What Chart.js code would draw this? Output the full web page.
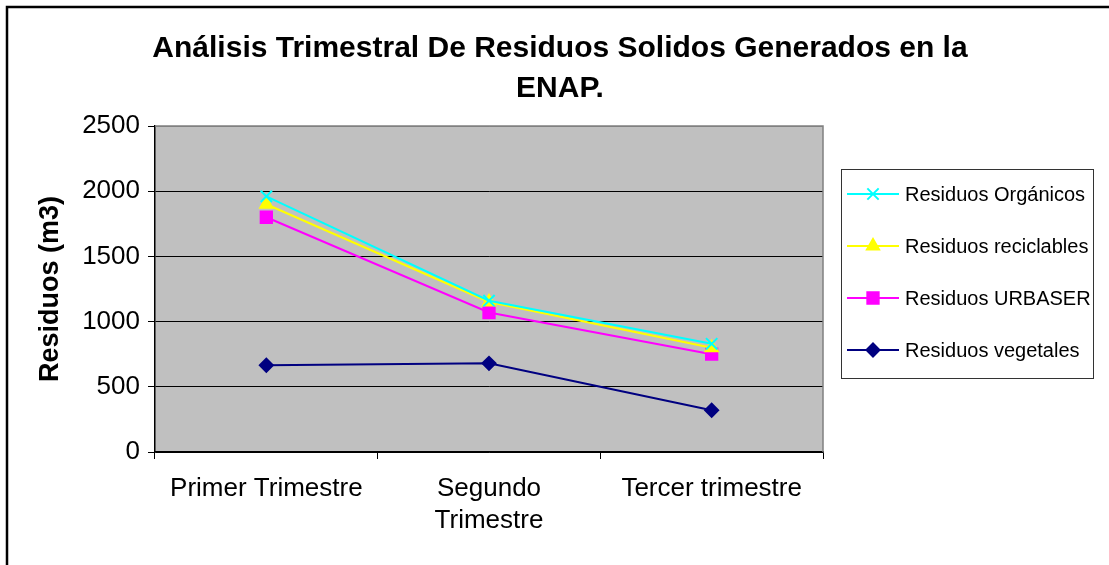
<!DOCTYPE html>
<html>
<head>
<meta charset="utf-8">
<script src="https://cdn.jsdelivr.net/npm/chart.js@4.4.1/dist/chart.umd.min.js"></script>
<style>
	html, body { margin: 0; padding: 0; background: #fff; }
	#wrap { width: 1109px; height: 565px; }
</style>
</head>
<body>
<div id="wrap"><canvas id="graph" width="1109" height="565"></canvas></div>
<script>
"use strict";

const categories = ["Primer Trimestre", ["Segundo", "Trimestre"], "Tercer trimestre"];
const organicos = [1960, 1160, 830];
const reciclables = [1900, 1150, 800];
const urbaser = [1800, 1070, 750];
const vegetales = [665, 680, 320];
const yTicks = [0, 500, 1000, 1500, 2000, 2500];

const titleLines = ["Análisis Trimestral De Residuos Solidos Generados en la", "ENAP."];
const FONT = '"Liberation Sans", Arial, sans-serif';

const series = [
	{ label: "Residuos Orgánicos", data: organicos, color: "#00ffff", style: "crossRot", radius: 8 },
	{ label: "Residuos reciclables", data: reciclables, color: "#ffff00", style: "triangle", radius: 7 },
	{ label: "Residuos URBASER", data: urbaser, color: "#ff00ff", style: "rect", radius: 8 },
	{ label: "Residuos vegetales", data: vegetales, color: "#000080", style: "rectRot", radius: 6.5 },
];

// fallback in case helpers are not exposed by the bundle
function marker(ctx, style, r, x, y) {
	if (typeof Chart !== "undefined" && Chart.helpers && Chart.helpers.drawPoint) {
		Chart.helpers.drawPoint(ctx, { pointStyle: style, radius: r, borderWidth: 2, rotation: 0 }, x, y);
		return;
	}
	ctx.beginPath();
	if (style === "rect") {
		const s = r * Math.SQRT1_2;
		ctx.rect(x - s, y - s, 2 * s, 2 * s);
		ctx.fill();
	} else if (style === "rectRot") {
		ctx.moveTo(x, y - r); ctx.lineTo(x + r, y); ctx.lineTo(x, y + r); ctx.lineTo(x - r, y);
		ctx.closePath(); ctx.fill();
	} else if (style === "triangle") {
		ctx.moveTo(x, y - r); ctx.lineTo(x + r * 0.866, y + r / 2); ctx.lineTo(x - r * 0.866, y + r / 2);
		ctx.closePath(); ctx.fill();
	} else {
		const s = r * Math.SQRT1_2;
		ctx.moveTo(x - s, y - s); ctx.lineTo(x + s, y + s);
		ctx.moveTo(x + s, y - s); ctx.lineTo(x - s, y + s);
		ctx.stroke();
	}
}

const decor = {
	id: "decor",
	beforeDraw(chart) {
		const { ctx, chartArea: a } = chart;
		ctx.save();
		ctx.fillStyle = "#fff";
		ctx.fillRect(0, 0, chart.width, chart.height);
		ctx.fillStyle = "#c0c0c0";
		ctx.fillRect(a.left, a.top, a.right - a.left, a.bottom - a.top);
		ctx.restore();
	},
	beforeDatasetsDraw(chart) {
		const { ctx, chartArea: a } = chart;
		ctx.save();
		ctx.strokeStyle = "#808080";
		ctx.lineWidth = 1.5;
		ctx.beginPath();
		ctx.moveTo(a.left, a.top);
		ctx.lineTo(a.right, a.top);
		ctx.lineTo(a.right, a.bottom);
		ctx.stroke();
		ctx.restore();
	},
	afterDraw(chart) {
		const ctx = chart.ctx;
		ctx.save();
		// outer frame
		ctx.strokeStyle = "#000";
		ctx.lineWidth = 2.5;
		ctx.beginPath();
		ctx.moveTo(7, chart.height);
		ctx.lineTo(7, 7);
		ctx.lineTo(chart.width, 7);
		ctx.stroke();

		// title
		ctx.fillStyle = "#000";
		ctx.font = "bold 30px " + FONT;
		ctx.textAlign = "center";
		ctx.textBaseline = "alphabetic";
		ctx.fillText(titleLines[0], 560, 57);
		ctx.fillText(titleLines[1], 560, 97);

		// legend
		const bx = 841, by = 169, bw = 252, bh = 209;
		ctx.fillStyle = "#fff";
		ctx.fillRect(bx, by, bw, bh);
		ctx.strokeStyle = "#333";
		ctx.lineWidth = 1;
		ctx.strokeRect(bx + 0.5, by + 0.5, bw, bh);
		ctx.font = "20px " + FONT;
		ctx.textAlign = "left";
		ctx.textBaseline = "middle";
		chart.data.datasets.forEach((ds, i) => {
			const y = 194 + i * 52;
			ctx.strokeStyle = ds.borderColor;
			ctx.fillStyle = ds.borderColor;
			ctx.lineWidth = 2;
			ctx.beginPath();
			ctx.moveTo(847, y);
			ctx.lineTo(899, y);
			ctx.stroke();
			marker(ctx, ds.pointStyle, ds.pointRadius, 873, y);
			ctx.fillStyle = "#000";
			ctx.fillText(ds.label, 905, y + 1);
		});
		ctx.restore();
	},
};

new Chart(document.querySelector("#graph").getContext("2d"), {
	type: "line",
	data: {
		labels: categories,
		datasets: series.map((s) => ({
			label: s.label,
			data: s.data,
			borderColor: s.color,
			backgroundColor: s.color,
			borderWidth: 2,
			pointStyle: s.style,
			pointRadius: s.radius,
			pointBorderWidth: 2,
			pointBorderColor: s.color,
			pointBackgroundColor: s.color,
			tension: 0,
			fill: false,
		})),
	},
	options: {
		responsive: false,
		animation: false,
		layout: { padding: { top: 126, right: 286, bottom: 0, left: 0 } },
		plugins: {
			legend: { display: false },
			title: { display: false },
			tooltip: { enabled: false },
		},
		scales: {
			x: {
				offset: true,
				afterFit(scale) {
					scale.height = 113;
				},
				grid: {
					offset: true,
					drawOnChartArea: false,
					drawTicks: true,
					tickLength: 7,
					color: "#000",
				},
				border: { color: "#000", width: 1.5 },
				ticks: {
					color: "#000",
					font: { family: FONT, size: 26, lineHeight: 1.23 },
					padding: 14,
					maxRotation: 0,
					autoSkip: false,
				},
			},
			y: {
				min: 0,
				max: 2500,
				afterFit(scale) {
					scale.width = 155;
				},
				afterBuildTicks(scale) {
					scale.ticks = yTicks.map((v) => ({ value: v }));
				},
				grid: {
					color: (c) => (c.tick && c.tick.value === 2500 ? "#808080" : "#000"),
					tickColor: "#000",
					tickLength: 7,
					lineWidth: 1,
				},
				border: { color: "#000", width: 1.5 },
				ticks: {
					color: "#000",
					font: { family: FONT, size: 26 },
					padding: 8,
					callback: (v) => String(v),
				},
				title: {
					display: true,
					text: "Residuos (m3)",
					color: "#000",
					font: { family: FONT, size: 27, weight: "bold" },
					padding: { top: 34, bottom: 0 },
				},
			},
		},
	},
	plugins: [decor],
});
</script>
</body>
</html>
